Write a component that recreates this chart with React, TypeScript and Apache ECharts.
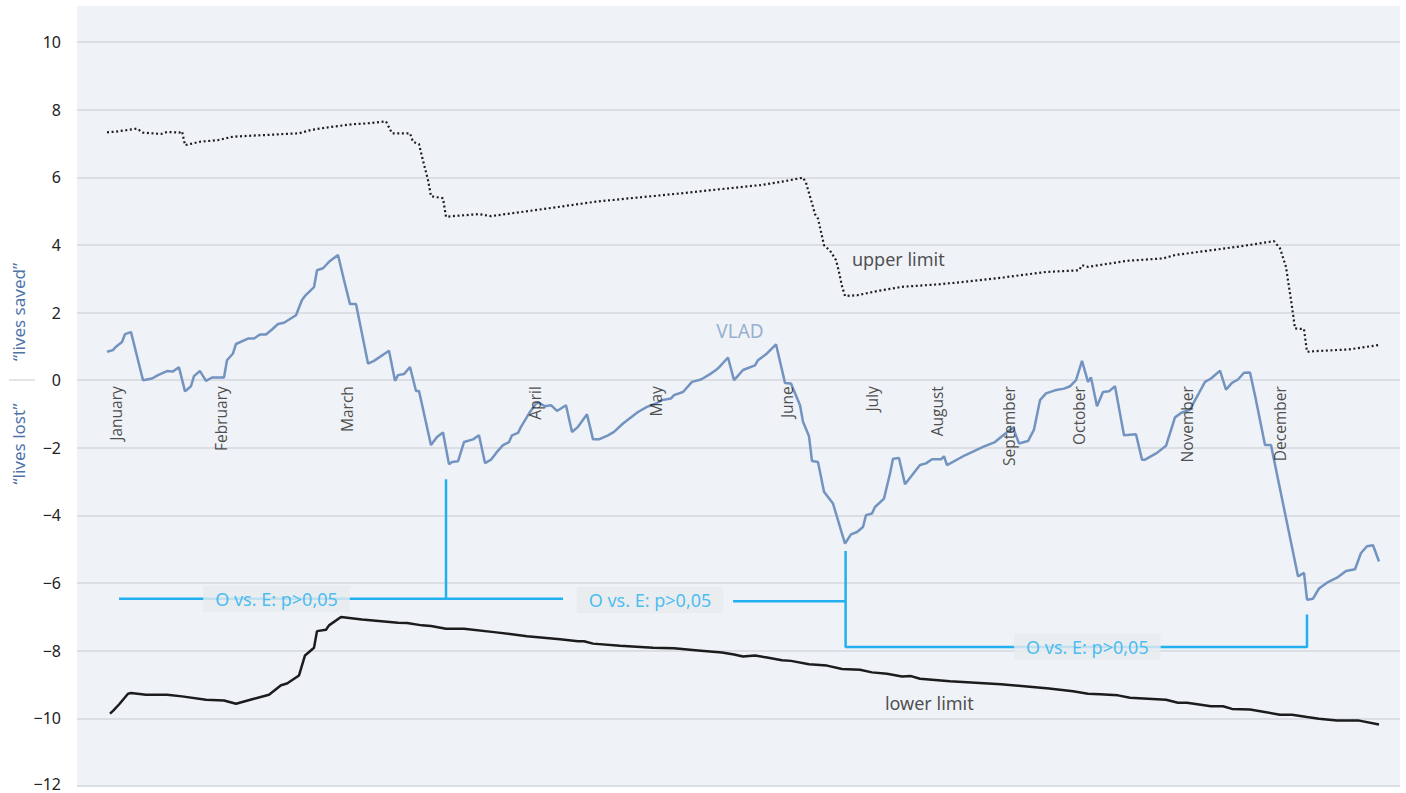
import { useEffect, useRef } from "react";
import * as echarts from "echarts";

// Case index (x) and cumulative VLAD value (y)
const vlad: [number, number][] = [
  [0, 0.84], [2, 0.89], [3, 0.99], [5, 1.13], [6, 1.36], [8, 1.42], [12, 0.0], [15, 0.05],
  [17, 0.15], [20, 0.27], [22, 0.26], [24, 0.38], [26, -0.33], [28, -0.18], [29, 0.12], [31, 0.27],
  [33, -0.02], [35, 0.08], [39, 0.08], [40, 0.59], [42, 0.79], [43, 1.07], [47, 1.23], [49, 1.23],
  [51, 1.35], [53, 1.35], [55, 1.5], [57, 1.66], [59, 1.7], [63, 1.92], [65, 2.37], [66, 2.49],
  [69, 2.75], [70, 3.25], [72, 3.31], [74, 3.5], [77, 3.7], [79, 2.96], [81, 2.25], [83, 2.25],
  [87, 0.49], [89, 0.57], [94, 0.87], [96, -0.02], [97, 0.15], [99, 0.18], [101, 0.39], [103, -0.32],
  [104, -0.32], [108, -1.92], [110, -1.68], [112, -1.55], [114, -2.49], [115, -2.42], [117, -2.4],
  [119, -1.83], [122, -1.75], [124, -1.63], [126, -2.45], [128, -2.35], [130, -2.12], [132, -1.92],
  [134, -1.83], [135, -1.63], [137, -1.56], [138, -1.38], [141, -0.94], [143, -0.69], [144, -0.67],
  [146, -0.77], [148, -0.74], [150, -0.91], [153, -0.74], [155, -1.53], [157, -1.38], [160, -1.01],
  [162, -1.75], [164, -1.75], [167, -1.63], [169, -1.53], [172, -1.28], [177, -0.94], [180, -0.79],
  [183, -0.69], [185, -0.59], [188, -0.54], [189, -0.44], [192, -0.35], [195, -0.05], [198, 0.02],
  [201, 0.18], [203, 0.3], [204, 0.38], [207, 0.67], [209, 0.0], [210, 0.1], [212, 0.3], [216, 0.44],
  [217, 0.59], [220, 0.79], [223, 1.06], [226, -0.08], [228, -0.1], [231, -0.74], [232, -1.23],
  [234, -1.66], [235, -2.39], [237, -2.42], [239, -3.3], [242, -3.65], [246, -4.83], [248, -4.56],
  [250, -4.49], [252, -4.34], [253, -3.99], [255, -3.94], [256, -3.75], [259, -3.5], [261, -2.76],
  [262, -2.32], [264, -2.3], [266, -3.08], [271, -2.51], [273, -2.46], [275, -2.34], [278, -2.34],
  [279, -2.25], [280, -2.51], [286, -2.22], [292, -1.97], [296, -1.83], [298, -1.68], [302, -1.4],
  [304, -1.87], [307, -1.8], [309, -1.46], [311, -0.59], [313, -0.39], [316, -0.3], [319, -0.25],
  [321, -0.18], [323, 0.0], [325, 0.57], [327, -0.05], [328, 0.08], [330, -0.77], [332, -0.35],
  [334, -0.33], [336, -0.18], [339, -1.63], [343, -1.6], [345, -2.35], [346, -2.35], [350, -2.15],
  [353, -1.94], [356, -1.1], [358, -0.97], [361, -0.87], [363, -0.54], [364, -0.38], [366, -0.05],
  [368, 0.05], [371, 0.28], [373, -0.28], [375, -0.08], [377, 0.02], [379, 0.22], [381, 0.23],
  [383, -0.59], [386, -1.92], [388, -1.92], [397, -5.8], [399, -5.7], [400, -6.49], [402, -6.46],
  [404, -6.16], [407, -5.97], [410, -5.84], [413, -5.64], [416, -5.59], [418, -5.11], [420, -4.91],
  [422, -4.88], [424, -5.36],
];

// Upper control limit
const upperLimit: [number, number][] = [
  [0, 7.33], [3, 7.35], [7, 7.4], [10, 7.44], [12, 7.32], [18, 7.28], [20, 7.34], [24, 7.32],
  [25, 7.36], [26, 6.95], [31, 7.05], [37, 7.1], [42, 7.2], [48, 7.23], [53, 7.25], [59, 7.28],
  [64, 7.3], [68, 7.4], [74, 7.48], [82, 7.57], [86, 7.59], [93, 7.65], [95, 7.3], [101, 7.3],
  [102, 7.05], [104, 6.98], [105, 6.61], [107, 5.92], [108, 5.44], [110, 5.41], [112, 5.38],
  [113, 4.83], [115, 4.85], [124, 4.91], [128, 4.85], [132, 4.9], [147, 5.08], [163, 5.28],
  [178, 5.41], [193, 5.54], [209, 5.69], [218, 5.77], [225, 5.87], [232, 5.99], [233, 5.84],
  [235, 5.23], [236, 4.91], [237, 4.78], [238, 4.39], [239, 3.99], [241, 3.83], [243, 3.55],
  [244, 3.2], [245, 2.78], [246, 2.49], [250, 2.51], [257, 2.64], [265, 2.76], [278, 2.84],
  [286, 2.91], [299, 3.04], [313, 3.2], [324, 3.25], [325, 3.4], [327, 3.35], [340, 3.53],
  [352, 3.6], [356, 3.7], [367, 3.83], [378, 3.96], [389, 4.11], [391, 3.9], [393, 3.35],
  [394, 2.76], [395, 2.17], [396, 1.53], [399, 1.51], [400, 0.84], [403, 0.86], [414, 0.91],
  [424, 1.04],
];

// Lower control limit
const lowerLimit: [number, number][] = [
  [1, -9.86], [2, -9.78], [4, -9.59], [7, -9.27], [8, -9.25], [13, -9.3], [20, -9.3], [25, -9.35],
  [33, -9.45], [39, -9.47], [43, -9.57], [49, -9.42], [54, -9.3], [58, -9.02], [60, -8.97],
  [64, -8.73], [66, -8.14], [69, -7.91], [70, -7.42], [73, -7.38], [74, -7.25], [78, -7.0],
  [85, -7.08], [97, -7.17], [100, -7.18], [105, -7.25], [108, -7.27], [113, -7.35], [119, -7.35],
  [129, -7.45], [140, -7.57], [151, -7.66], [157, -7.72], [159, -7.72], [162, -7.79], [171, -7.85],
  [182, -7.91], [189, -7.93], [197, -7.99], [205, -8.05], [209, -8.11], [212, -8.17], [216, -8.14],
  [220, -8.2], [225, -8.28], [228, -8.3], [234, -8.4], [240, -8.44], [245, -8.54], [251, -8.56],
  [255, -8.64], [260, -8.68], [265, -8.76], [268, -8.75], [271, -8.83], [281, -8.9], [298, -8.99],
  [314, -9.12], [322, -9.2], [327, -9.27], [331, -9.29], [337, -9.32], [341, -9.39], [347, -9.42],
  [353, -9.45], [357, -9.54], [360, -9.54], [368, -9.64], [372, -9.64], [375, -9.72], [381, -9.74],
  [391, -9.89], [395, -9.89], [400, -9.96], [404, -10.01], [410, -10.06], [417, -10.06], [424, -10.18],
];

// First case of each month
const months = [
  "January", "February", "March", "April", "May", "June",
  "July", "August", "September", "October", "November", "December",
];
const monthCases = [3, 38, 80, 142.5, 183, 226.5, 255, 276.5, 300.5, 324, 360, 391];

// Value axis range
const yMin = -12;
const yMax = 10;
const yStep = 2;

// Observed vs. expected tests between the VLAD minima
const testText = "O vs. E: p>0,05";
const testBrackets: [number, number][][] = [
  [[4, -6.46], [152, -6.46]],
  [[113, -2.93], [113, -6.46]],
  [[208.7, -6.54], [246.2, -6.54]],
  [[246.2, -5.05], [246.2, -7.89], [400, -7.89], [400, -6.93]],
];
const testLabelAt: [number, number][] = [[56.5, -6.46], [181, -6.5], [326.8, -7.88]];

// Series name labels
const seriesLabels = [
  { name: "VLAD", at: [211, 1.45], color: "#7f9dc7", size: 19, align: "center" },
  { name: "upper limit", at: [248.3, 3.58], color: "#222222", size: 18, align: "left" },
  { name: "lower limit", at: [259.3, -9.56], color: "#222222", size: 18, align: "left" },
];

const FONT = "'Noto Sans', 'Open Sans', sans-serif";
const CYAN = "#22b0f0";

export default function App() {
  const ref = useRef<HTMLDivElement>(null);

  useEffect(() => {
    document.body.style.margin = "0";
    if (!ref.current) return;
    const chart = echarts.init(ref.current, undefined, { renderer: "svg" });

    // Minus sign for negatives; the bottom tick is lifted slightly so it stays on the canvas
    const fmt = (v: number) => {
      const s = v < 0 ? "\u2212" + Math.abs(v) : String(v);
      return v === yMin ? `{low|${s}}` : s;
    };

    chart.setOption({
      animation: false,
      backgroundColor: "#ffffff",
      grid: { left: 77, right: 6, top: 42, bottom: 7, containLabel: false, outerBoundsMode: "none" },
      xAxis: {
        type: "value",
        min: -10,
        max: 431,
        show: false,
      },
      yAxis: {
        type: "value",
        min: yMin,
        max: yMax,
        interval: yStep,
        axisLine: { show: false },
        axisTick: { show: false },
        axisLabel: {
          margin: 16,
          color: "#222222",
          fontSize: 16,
          lineHeight: 13,
          fontFamily: FONT,
          formatter: fmt,
          rich: {
            low: {
              color: "#222222",
              fontSize: 16,
              lineHeight: 13,
              fontFamily: FONT,
              padding: [0, 0, 5, 0],
            },
          },
        },
        splitLine: { lineStyle: { color: "#d4d8dc", width: 1.5 } },
      },
      graphic: [
        {
          type: "rect",
          z: -10,
          shape: { x: 77, y: 6, width: 1323, height: 781 },
          style: { fill: "#eff2f6" },
          silent: true,
        },
        {
          type: "text",
          x: 18,
          y: 312,
          rotation: Math.PI / 2,
          style: {
            text: "\u201clives saved\u201d",
            fill: "#4e73a8",
            font: `17px ${FONT}`,
            align: "center",
            verticalAlign: "middle",
          },
        },
        {
          type: "text",
          x: 18,
          y: 444,
          rotation: Math.PI / 2,
          style: {
            text: "\u201clives lost\u201d",
            fill: "#4e73a8",
            font: `17px ${FONT}`,
            align: "center",
            verticalAlign: "middle",
          },
        },
        {
          type: "line",
          shape: { x1: 9, y1: 380, x2: 35, y2: 380 },
          style: { stroke: "#d8dbdf", lineWidth: 1.5 },
        },
      ],
      series: [
        {
          name: "upper limit",
          type: "line",
          data: upperLimit,
          symbol: "none",
          silent: true,
          z: 3,
          lineStyle: { color: "#1e1e1e", width: 2.2, type: [2, 2.6] },
        },
        {
          name: "lower limit",
          type: "line",
          data: lowerLimit,
          symbol: "none",
          silent: true,
          z: 3,
          lineStyle: { color: "#1c1c1c", width: 2.5 },
        },
        ...testBrackets.map((seg, i) => ({
          name: "test" + i,
          type: "line",
          data: seg,
          symbol: "none",
          silent: true,
          z: 4,
          lineStyle: { color: CYAN, width: 2.5 },
        })),
        {
          name: "VLAD",
          type: "line",
          data: vlad,
          symbol: "none",
          silent: true,
          z: 5,
          lineStyle: { color: "#7393c0", width: 2.5 },
        },
        {
          name: "tests",
          type: "scatter",
          data: testLabelAt,
          symbolSize: 0,
          silent: true,
          z: 10,
          label: {
            show: true,
            position: "inside",
            formatter: testText,
            color: CYAN,
            fontSize: 18,
            fontFamily: FONT,
            lineHeight: 18,
            backgroundColor: "#e8ebef",
            padding: [4, 12],
          },
          emphasis: { disabled: true },
        },
        {
          name: "months",
          type: "scatter",
          data: monthCases.map((c, i) => ({ value: [c, 0], name: months[i] })),
          symbolSize: 0,
          silent: true,
          z: 10,
          label: {
            show: true,
            position: [0, 6],
            rotate: 90,
            align: "right",
            verticalAlign: "middle",
            formatter: "{b}",
            color: "#222222",
            fontSize: 15.5,
            fontFamily: "'Open Sans', 'Noto Sans', sans-serif",
          },
          emphasis: { disabled: true },
        },
        {
          name: "names",
          type: "scatter",
          data: seriesLabels.map((s) => ({
            value: s.at,
            name: s.name,
            label: { color: s.color, fontSize: s.size, align: s.align },
          })),
          symbolSize: 0,
          silent: true,
          z: 10,
          label: {
            show: true,
            position: [0, 0],
            verticalAlign: "middle",
            formatter: "{b}",
            fontFamily: FONT,
          },
          emphasis: { disabled: true },
        },
      ],
    });

    return () => chart.dispose();
  }, []);

  return <div ref={ref} style={{ width: 1406, height: 793 }} />;
}
